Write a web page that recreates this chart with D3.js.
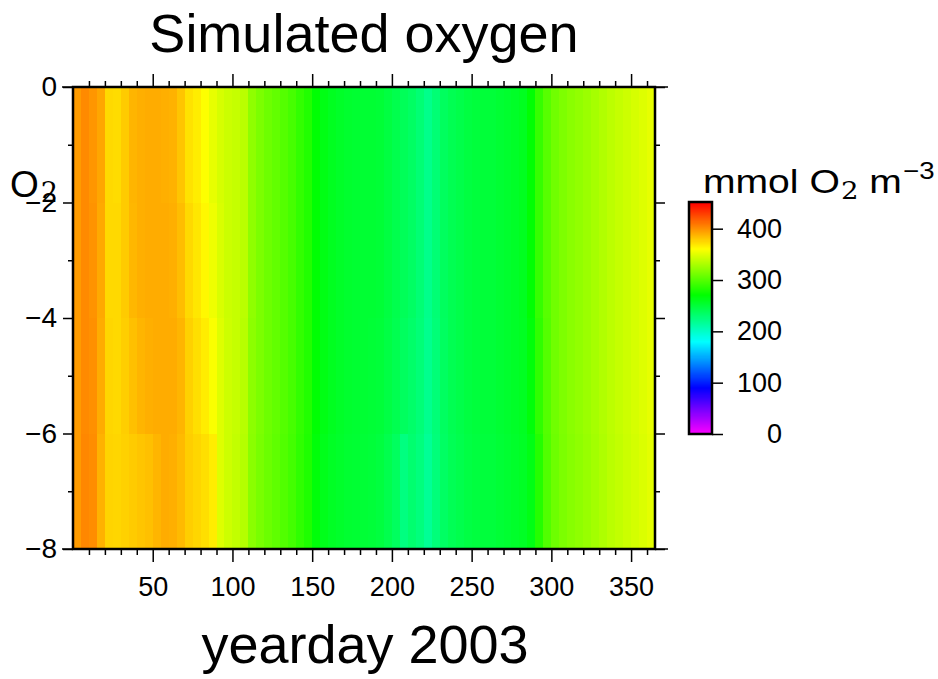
<!DOCTYPE html>
<html>
<head>
<meta charset="utf-8">
<script src="https://cdn.jsdelivr.net/npm/d3@7/dist/d3.min.js"></script>
<style>
  body { margin: 0; background: #fff; }
  svg { display: block; font-family: "Liberation Sans", Arial, Helvetica, sans-serif; }
</style>
</head>
<body>
<div id="chart"></div>
<script>
// start day of each 5-day bin (yearday 2003)
const dayStarts = [0, 5, 10, 15, 20, 25, 30, 35, 40, 45, 50, 55, 60, 65, 70, 75, 80, 85, 90, 95,
  100, 105, 110, 115, 120, 125, 130, 135, 140, 145, 150, 155, 160, 165, 170, 175, 180, 185, 190, 195,
  200, 205, 210, 215, 220, 225, 230, 235, 240, 245, 250, 255, 260, 265, 270, 275, 280, 285, 290, 295,
  300, 305, 310, 315, 320, 325, 330, 335, 340, 345, 350, 355, 360];
const binDays = 5;

// depth layers (m)
const layerTops = [0, -2, -4, -6];
const layerBottoms = [-2, -4, -6, -8];

// simulated oxygen, mmol O2 m-3, one array per layer (top to bottom)
const o2Layer1 = [397, 403, 399, 393, 375, 374, 380, 388, 390, 391, 391, 390, 389, 382, 372, 368, 361, 353, 347, 343,
  341, 337, 322, 315, 310, 306, 301, 296, 289, 283, 270, 264, 260, 257, 255, 254, 253, 253, 252, 248,
  244, 240, 236, 230, 222, 230, 238, 242, 245, 248, 250, 251, 251, 253, 255, 257, 260, 270, 290, 302,
  311, 316, 320, 323, 326, 330, 334, 338, 341, 344, 347, 350, 353];
const o2Layer2 = [397, 403, 400, 392, 375, 375, 380, 387, 390, 391, 391, 391, 390, 385, 375, 370, 364, 356, 348, 343,
  341, 337, 322, 315, 310, 306, 301, 296, 289, 283, 270, 264, 260, 257, 255, 254, 253, 253, 252, 248,
  244, 240, 236, 230, 222, 230, 238, 242, 245, 248, 250, 251, 251, 253, 255, 257, 260, 270, 290, 302,
  311, 316, 320, 323, 326, 330, 334, 338, 341, 344, 347, 350, 353];
const o2Layer3 = [397, 403, 401, 391, 376, 375, 379, 384, 388, 390, 391, 391, 391, 388, 378, 373, 368, 360, 350, 344,
  341, 336, 321, 315, 310, 306, 301, 296, 289, 283, 270, 264, 260, 257, 255, 254, 253, 252, 251, 247,
  243, 238, 234, 229, 221, 229, 237, 242, 245, 248, 250, 251, 251, 253, 255, 257, 259, 268, 288, 301,
  311, 316, 320, 323, 326, 330, 334, 338, 341, 344, 347, 350, 353];
const o2Layer4 = [397, 404, 402, 389, 377, 376, 378, 380, 382, 384, 388, 391, 390, 386, 379, 376, 373, 368, 350, 344,
  340, 335, 320, 314, 309, 305, 300, 295, 288, 282, 268, 262, 258, 256, 254, 253, 252, 251, 249, 244,
  238, 226, 232, 227, 218, 228, 236, 241, 244, 247, 249, 250, 250, 252, 254, 256, 258, 264, 284, 300,
  310, 315, 319, 322, 325, 329, 333, 337, 340, 343, 346, 349, 352];
const o2Layers = [o2Layer1, o2Layer2, o2Layer3, o2Layer4];

// axis ticks
const xMajorTicks = [50, 100, 150, 200, 250, 300, 350];
const xMinorTicks = [10, 20, 30, 40, 60, 70, 80, 90, 110, 120, 130, 140, 160, 170, 180, 190, 210, 220, 230, 240,
  260, 270, 280, 290, 310, 320, 330, 340, 360];
const yMajorTicks = [0, -2, -4, -6, -8];
const yMinorTicks = [-1, -3, -5, -7];
const colorTicks = [0, 100, 200, 300, 400];
const colorMax = 452;

const width = 938, height = 679;
const plot = { left: 73, right: 655, top: 87, bottom: 549 };
const bar = { left: 689, right: 712, top: 202, bottom: 434 };

const svg = d3.select('#chart').append('svg').attr('width', width).attr('height', height);

const x = d3.scaleLinear().domain([0, 365]).range([plot.left, plot.right]);
const y = d3.scaleLinear().domain([0, -8]).range([plot.top, plot.bottom]);
// rainbow: magenta (low) -> red (high)
const hue = d3.scaleLinear().domain([0, colorMax]).range([300, 0]);
const color = v => d3.hsl(hue(v), 1, 0.5).toString();

// heat map cells
const cells = [];
o2Layers.forEach((vals, li) => {
  vals.forEach((v, i) => {
    cells.push({ d0: dayStarts[i], d1: Math.min(dayStarts[i] + binDays, 365), z0: layerTops[li], z1: layerBottoms[li], v: v });
  });
});

svg.append('g').attr('shape-rendering', 'crispEdges')
  .selectAll('rect').data(cells).enter().append('rect')
  .attr('x', d => x(d.d0))
  .attr('y', d => y(d.z0))
  .attr('width', d => x(d.d1) - x(d.d0) + 0.5)
  .attr('height', d => y(d.z1) - y(d.z0) + 0.5)
  .attr('fill', d => color(d.v));

// axis styling helper
function styleAxis(g, size) {
  g.select('.domain').remove();
  g.selectAll('line').attr('stroke', '#000').attr('stroke-width', 1.5);
  g.selectAll('text').attr('fill', '#000').attr('font-size', size + 'px')
    .attr('font-family', '"Liberation Sans", Arial, sans-serif');
}

const fmt = d3.format('d');

// bottom axis
svg.append('g').attr('transform', `translate(0,${plot.bottom})`)
  .call(d3.axisBottom(x).tickValues(xMajorTicks).tickSize(13).tickPadding(15).tickFormat(fmt))
  .call(g => styleAxis(g, 27));
svg.append('g').attr('transform', `translate(0,${plot.bottom})`)
  .call(d3.axisBottom(x).tickValues(xMinorTicks).tickSize(6).tickFormat(''))
  .call(g => styleAxis(g, 27));
// top axis
svg.append('g').attr('transform', `translate(0,${plot.top})`)
  .call(d3.axisTop(x).tickValues(xMajorTicks).tickSize(13).tickFormat(''))
  .call(g => styleAxis(g, 27));
svg.append('g').attr('transform', `translate(0,${plot.top})`)
  .call(d3.axisTop(x).tickValues(xMinorTicks).tickSize(6).tickFormat(''))
  .call(g => styleAxis(g, 27));
// left axis
svg.append('g').attr('transform', `translate(${plot.left},0)`)
  .call(d3.axisLeft(y).tickValues(yMajorTicks).tickSize(10).tickPadding(6).tickFormat(fmt))
  .call(g => styleAxis(g, 28));
svg.append('g').attr('transform', `translate(${plot.left},0)`)
  .call(d3.axisLeft(y).tickValues(yMinorTicks).tickSize(5).tickFormat(''))
  .call(g => styleAxis(g, 28));
// right axis
svg.append('g').attr('transform', `translate(${plot.right},0)`)
  .call(d3.axisRight(y).tickValues(yMajorTicks).tickSize(10).tickFormat(''))
  .call(g => styleAxis(g, 27));
svg.append('g').attr('transform', `translate(${plot.right},0)`)
  .call(d3.axisRight(y).tickValues(yMinorTicks).tickSize(5).tickFormat(''))
  .call(g => styleAxis(g, 27));

// frame, with the horizontal axis lines running a little past it
svg.append('rect')
  .attr('x', plot.left).attr('y', plot.top)
  .attr('width', plot.right - plot.left).attr('height', plot.bottom - plot.top)
  .attr('fill', 'none').attr('stroke', '#000').attr('stroke-width', 2.5);
[plot.top, plot.bottom].forEach(yy => {
  svg.append('line').attr('x1', plot.left - 11).attr('x2', plot.right + 13)
    .attr('y1', yy).attr('y2', yy).attr('stroke', '#000').attr('stroke-width', 1.5);
});

// titles
svg.append('text').attr('x', 364).attr('y', 52).attr('text-anchor', 'middle')
  .attr('font-size', '54px').text('Simulated oxygen');
svg.append('text').attr('x', 365).attr('y', 663).attr('text-anchor', 'middle')
  .attr('font-size', '54px').text('yearday 2003');

// y label "O2"
const yLab = svg.append('text').attr('x', 10).attr('y', 197).attr('font-size', '37px');
yLab.append('tspan').text('O');
yLab.append('tspan').attr('dx', 2).attr('dy', 5).attr('font-size', '27px')
  .attr('font-family', '"DejaVu Serif", serif').text('2');

// colour bar
const cy = d3.scaleLinear().domain([0, colorMax]).range([bar.bottom, bar.top]);
const steps = d3.range(0, colorMax, 1);
svg.append('g').attr('shape-rendering', 'crispEdges')
  .selectAll('rect').data(steps).enter().append('rect')
  .attr('x', bar.left).attr('width', bar.right - bar.left)
  .attr('y', d => cy(d + 1)).attr('height', d => cy(d) - cy(d + 1) + 0.5)
  .attr('fill', d => color(d + 0.5));
svg.append('rect')
  .attr('x', bar.left).attr('y', bar.top)
  .attr('width', bar.right - bar.left).attr('height', bar.bottom - bar.top)
  .attr('fill', 'none').attr('stroke', '#000').attr('stroke-width', 2.5);
svg.append('g').attr('transform', `translate(${bar.right},0)`)
  .call(d3.axisRight(cy).tickValues(colorTicks).tickSize(11).tickFormat(fmt))
  .call(g => styleAxis(g, 27))
  .call(g => g.selectAll('text').attr('text-anchor', 'end').attr('x', 70));

// colour bar title (runs off the right edge, as in the original)
const cLab = svg.append('g').attr('transform', 'translate(703,193) scale(1.15,1)')
  .append('text').attr('x', 0).attr('y', 0).attr('font-size', '34px');
cLab.append('tspan').text('mmol O');
cLab.append('tspan').attr('dx', 1).attr('dy', 6).attr('font-size', '24px')
  .attr('font-family', '"DejaVu Serif", serif').text('2');
cLab.append('tspan').attr('dy', -6).text(' m');
cLab.append('tspan').attr('dx', 1).attr('dy', -14).attr('font-size', '24px').text('\u22123');
</script>
</body>
</html>
